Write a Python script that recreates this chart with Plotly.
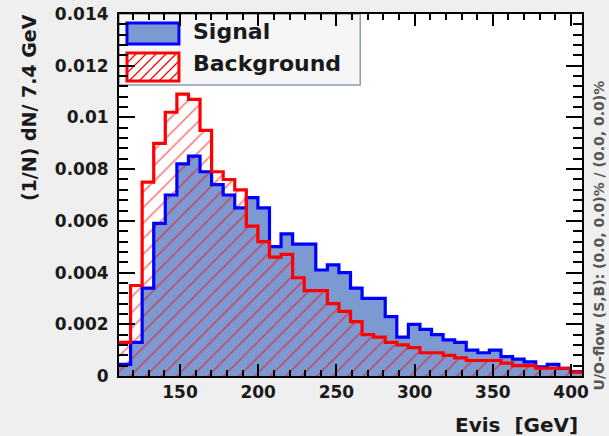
import plotly.graph_objects as go

# Histogram binning: 40 bins of 7.4 GeV starting at 111 GeV
bin_low = 111.0
bin_width = 7.4

# Normalised Evis distributions, (1/N) dN per bin
signal = [
    0.00045, 0.0013, 0.0034, 0.0059, 0.0070, 0.0082, 0.0085, 0.0079, 0.0074, 0.0070,
    0.0065, 0.0069, 0.0065, 0.0050, 0.0055, 0.0051, 0.0051, 0.0041, 0.0043, 0.0040,
    0.0034, 0.0030, 0.0030, 0.0023, 0.0015, 0.0020, 0.0018, 0.0016, 0.0014, 0.0013,
    0.0010, 0.0009, 0.0010, 0.00075, 0.00065, 0.00055, 0.00035, 0.00045, 0.0003, 0.00017,
]
background = [
    0.0013, 0.0035, 0.0075, 0.0090, 0.0102, 0.0109, 0.0107, 0.0095, 0.0079, 0.0076,
    0.0072, 0.0058, 0.0052, 0.0046, 0.0047, 0.0038, 0.0033, 0.0033, 0.0028, 0.0025,
    0.0021, 0.0016, 0.0015, 0.0013, 0.0012, 0.0011, 0.0009, 0.0009, 0.0008, 0.0007,
    0.0006, 0.0006, 0.0006, 0.0005, 0.0004, 0.0004, 0.0003, 0.0003, 0.0003, 0.00015,
]

x_range = [111, 407]
y_range = [0, 0.014]
y_tick_vals = [0, 0.002, 0.004, 0.006, 0.008, 0.010, 0.012, 0.014]
y_tick_text = ["0", "0.002", "0.004", "0.006", "0.008", "0.01", "0.012", "0.014"]
x_tick_vals = [150, 200, 250, 300, 350, 400]
x_tick_text = ["150", "200", "250", "300", "350", "400"]

legend_labels = ["Signal", "Background"]

SIG_FILL = "#7d99d1"
SIG_LINE = "#0000ff"
BKG_LINE = "#ff0000"
FONT = "DejaVu Sans"

edges = [bin_low + bin_width * i for i in range(len(signal) + 1)]


def steps(vals):
    return list(vals) + [vals[-1]]


fig = go.Figure()

# signal: solid fill
fig.add_trace(go.Scatter(
    x=edges, y=steps(signal), mode="lines",
    line=dict(shape="hv", width=0, color=SIG_FILL),
    fill="tozeroy", fillcolor=SIG_FILL, hoverinfo="skip",
))
# background: red hatching
fig.add_trace(go.Scatter(
    x=edges, y=steps(background), mode="lines",
    line=dict(shape="hv", width=0, color="rgba(0,0,0,0)"),
    fill="tozeroy", fillcolor="rgba(0,0,0,0)",
    fillpattern=dict(shape="/", fgcolor=BKG_LINE, bgcolor="rgba(0,0,0,0)",
                     size=11, solidity=0.15),
    hoverinfo="skip",
))
# outlines
fig.add_trace(go.Scatter(
    x=edges, y=steps(signal), mode="lines",
    line=dict(shape="hv", width=3.2, color=SIG_LINE), hoverinfo="skip",
))
fig.add_trace(go.Scatter(
    x=edges, y=steps(background), mode="lines",
    line=dict(shape="hv", width=3.2, color=BKG_LINE), hoverinfo="skip",
))

# plot area in pixels
W, H = 609, 436
L, R, T, B = 119, 582.5, 14, 376


def px(x):
    return (x - L) / (R - L)


def py(y):
    return (B - y) / (B - T)


shapes = []
# legend frame
shapes.append(dict(type="rect", xref="paper", yref="paper",
                   x0=px(119), x1=px(360.5), y0=py(85), y1=py(14),
                   fillcolor="#f6f6f6", line=dict(color="#8c9cb4", width=1.5),
                   layer="below"))
# signal swatch
shapes.append(dict(type="rect", xref="paper", yref="paper",
                   x0=px(127), x1=px(179), y0=py(44), y1=py(23),
                   fillcolor=SIG_FILL, line=dict(color=SIG_LINE, width=3),
                   layer="below"))
# background swatch
bx0, bx1, by0, by1 = 127, 179, 53, 81
shapes.append(dict(type="rect", xref="paper", yref="paper",
                   x0=px(bx0), x1=px(bx1), y0=py(by1), y1=py(by0),
                   fillcolor="white", line=dict(color=BKG_LINE, width=3),
                   layer="below"))
# hatching inside the background swatch
h = by1 - by0
k = bx0 - h
while k < bx1:
    xs, ys = k, by1
    xe, ye = k + h, by0
    if xs < bx0:
        ys = by1 - (bx0 - xs)
        xs = bx0
    if xe > bx1:
        ye = by0 + (xe - bx1)
        xe = bx1
    if xe > xs:
        shapes.append(dict(type="line", xref="paper", yref="paper",
                           x0=px(xs), x1=px(xe), y0=py(ys), y1=py(ye),
                           line=dict(color=BKG_LINE, width=1.2), layer="below"))
    k += 10

annotations = [
    dict(text=legend_labels[0], x=px(191), y=py(32), xref="paper", yref="paper",
         xanchor="left", yanchor="middle", showarrow=False,
         font=dict(family=FONT, size=22, weight="bold", color="#1a1a1a")),
    dict(text=legend_labels[1], x=px(191), y=py(64), xref="paper", yref="paper",
         xanchor="left", yanchor="middle", showarrow=False,
         font=dict(family=FONT, size=22, weight="bold", color="#1a1a1a")),
    dict(text="(1/N) dN/ 7.4 GeV", x=px(29), y=py(108), xref="paper", yref="paper",
         xanchor="center", yanchor="middle", textangle=-90, showarrow=False,
         font=dict(family=FONT, size=19, weight="bold", color="#1a1a1a")),
    dict(text="Evis\u00a0 [GeV]", x=px(580), y=py(425), xref="paper", yref="paper",
         xanchor="right", yanchor="middle", showarrow=False,
         font=dict(family=FONT, size=20, weight="bold", color="#1a1a1a")),
    dict(text="U/O-flow (S,B): (0.0, 0.0)% / (0.0, 0.0)%", x=px(600), y=py(235),
         xref="paper", yref="paper", xanchor="center", yanchor="middle",
         textangle=-90, showarrow=False,
         font=dict(family=FONT, size=14, weight="bold", color="#555555")),
]

tickfont = dict(family=FONT, size=17, weight="bold", color="#1a1a1a")

fig.update_layout(
    width=W, height=H,
    margin=dict(l=L, r=W - R, t=T, b=H - B, pad=0, autoexpand=False),
    paper_bgcolor="#efefef", plot_bgcolor="white",
    showlegend=False,
    shapes=shapes, annotations=annotations,
    xaxis=dict(range=x_range, showline=True, linecolor="black", linewidth=2,
               mirror="ticks", ticks="inside", ticklen=12, tickwidth=1.8,
               tickcolor="black", tickmode="array", tickvals=x_tick_vals,
               ticktext=x_tick_text, tickfont=tickfont, ticklabelstandoff=0,
               automargin=False,
               minor=dict(ticks="inside", ticklen=6, tickwidth=1.8, tickcolor="black",
                          dtick=10, tick0=0, showgrid=False),
               showgrid=False, zeroline=False),
    yaxis=dict(range=y_range, showline=True, linecolor="black", linewidth=2,
               mirror="ticks", ticks="inside", ticklen=16, tickwidth=1.8,
               tickcolor="black", tickmode="array", tickvals=y_tick_vals,
               ticktext=y_tick_text, tickfont=tickfont, ticklabelstandoff=5,
               automargin=False,
               minor=dict(ticks="inside", ticklen=9, tickwidth=1.8, tickcolor="black",
                          dtick=0.0004, tick0=0, showgrid=False),
               showgrid=False, zeroline=False),
)

fig.write_html("out.html")
